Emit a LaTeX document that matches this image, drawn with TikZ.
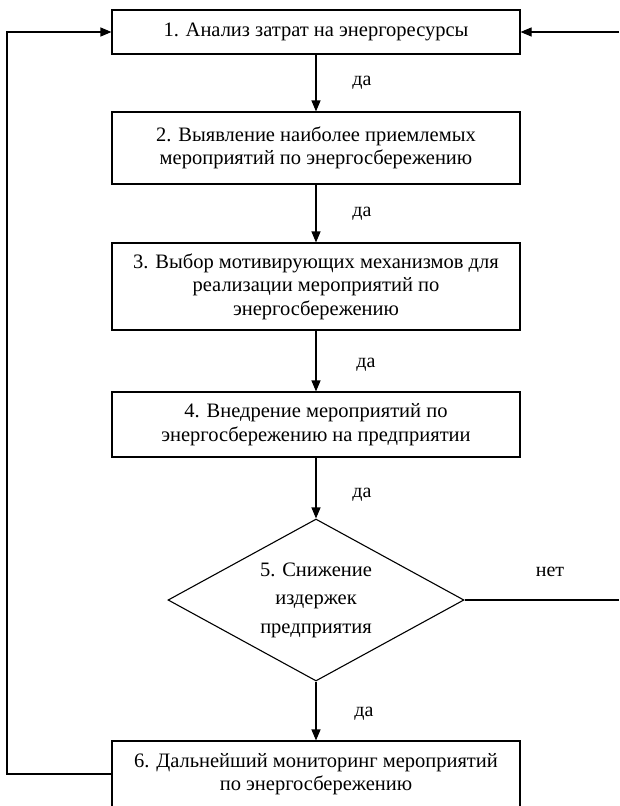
\documentclass[tikz,border=0pt]{standalone}
\usepackage{fontspec}
\setmainfont{Liberation Serif}
\usetikzlibrary{arrows.meta,shapes.geometric}

\begin{document}
\begin{tikzpicture}[x=1pt,y=-1pt,
  blok/.style={draw,rectangle,line width=1.1pt,minimum width=408pt,
    inner sep=0pt,align=center,font=\fontsize{20.5}{23.5}\selectfont},
  romb/.style={draw,diamond,line width=1.1pt,minimum width=296pt,
    minimum height=162pt,inner sep=0pt},
  rombtekst/.style={align=center,inner sep=0pt,
    font=\fontsize{20.5}{28.5}\selectfont},
  strel/.style={line width=1.1pt,-{Triangle[length=11pt,width=9pt]}},
  liniya/.style={line width=1.1pt},
  metka/.style={font=\fontsize{20}{22}\selectfont}]
\useasboundingbox (0,0) rectangle (619,806);
% bloki
\node[blok,minimum height=44pt] (b1) at (316,32) {1. Анализ затрат на энергоресурсы};
\node[blok,minimum height=72pt] (b2) at (316,148) {2. Выявление наиболее приемлемых\\мероприятий по энергосбережению};
\node[blok,minimum height=87pt] (b3) at (316,286.5) {3. Выбор мотивирующих механизмов для\\реализации мероприятий по\\энергосбережению};
\node[blok,minimum height=65pt] (b4) at (316,424.5) {4. Внедрение мероприятий по\\энергосбережению на предприятии};
\node[romb] (d5) at (316,600) {};
\node[rombtekst] (t5) at (d5.center) {5. Снижение\\издержек\\предприятия};
\node[blok,minimum height=66pt] (b6) at (316,774) {6. Дальнейший мониторинг мероприятий\\по энергосбережению};
% metki
\node[metka] (da1) at (362,83) {да};
\node[metka] (da2) at (362,214) {да};
\node[metka] (da3) at (366,365) {да};
\node[metka] (da4) at (362,495) {да};
\node[metka] (da5) at (364,714) {да};
\node[metka] (net) at (550,572) {нет};
% vneshnie tochki
\coordinate (lc) at (7,774);
\coordinate (rin) at (619,32);
\coordinate (nout) at (619,600);
% strelki
\draw[strel] (b1.south) -- (b2.north);
\draw[strel] (b2.south) -- (b3.north);
\draw[strel] (b3.south) -- (b4.north);
\draw[strel] (b4.south) -- (d5.north);
\draw[strel] (d5.south) -- (b6.north);
\draw[strel] (b6.west) -- (lc) |- (b1.west);
\draw[strel] (rin) -- (b1.east);
\draw[liniya] (d5.east) -- (nout);
\end{tikzpicture}
\end{document}
